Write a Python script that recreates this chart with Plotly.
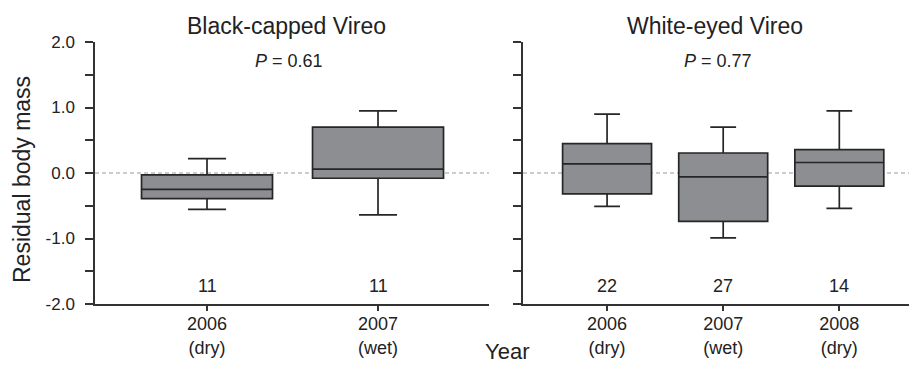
import plotly.graph_objects as go

# ---- data ----
bcv_pos = [0, 1]
bcv_labels = ["2006<br>(dry)", "2007<br>(wet)"]
bcv_q1 = [-0.39, -0.08]
bcv_med = [-0.25, 0.06]
bcv_q3 = [-0.03, 0.70]
bcv_lo = [-0.555, -0.64]
bcv_hi = [0.22, 0.95]
bcv_n = ["11", "11"]

wev_pos = [0, 1, 2]
wev_labels = ["2006<br>(dry)", "2007<br>(wet)", "2008<br>(dry)"]
wev_q1 = [-0.32, -0.74, -0.20]
wev_med = [0.14, -0.06, 0.16]
wev_q3 = [0.45, 0.305, 0.356]
wev_lo = [-0.51, -0.99, -0.54]
wev_hi = [0.90, 0.70, 0.95]
wev_n = ["22", "27", "14"]

y_tickvals = [-2.0, -1.5, -1.0, -0.5, 0.0, 0.5, 1.0, 1.5, 2.0]
y_ticktext = ["-2.0", "", "-1.0", "", "0.0", "", "1.0", "", "2.0"]

titles = ["Black-capped Vireo", "White-eyed Vireo"]
pvals = ["<i>P</i> = 0.61", "<i>P</i> = 0.77"]

# ---- style ----
FONT = "Liberation Sans, Arial, sans-serif"
TXT = "#222222"
FILL = "#8d8e92"
EDGE = "#262626"
W, H = 909, 365

fig = go.Figure()

def add_boxes(pos, q1, med, q3, lo, hi, xa, ya):
    fig.add_trace(go.Box(
        x=pos, q1=q1, median=med, q3=q3, lowerfence=lo, upperfence=hi,
        xaxis=xa, yaxis=ya, width=0.766, whiskerwidth=0.29,
        fillcolor=FILL, line=dict(color=EDGE, width=1.7),
        boxpoints=False, showlegend=False, hoverinfo="skip"))

add_boxes(bcv_pos, bcv_q1, bcv_med, bcv_q3, bcv_lo, bcv_hi, "x", "y")
add_boxes(wev_pos, wev_q1, wev_med, wev_q3, wev_lo, wev_hi, "x2", "y2")

ydom = [1 - 304 / H, 1 - 42 / H]

axis_common = dict(showgrid=False, zeroline=False, showline=True,
                   linecolor="#333333", linewidth=1.5, ticks="outside",
                   tickcolor="#333333", tickwidth=1.5, mirror=False,
                   automargin=False)

fig.update_layout(
    width=W, height=H, margin=dict(l=0, r=0, t=0, b=0, pad=0),
    paper_bgcolor="white", plot_bgcolor="white",
    font=dict(family=FONT, color=TXT),
    xaxis=dict(domain=[95 / W, 489 / W], range=[-0.655, 1.649], anchor="y",
               tickvals=bcv_pos, ticktext=bcv_labels, ticklen=5,
               ticklabelstandoff=-2,
               tickfont=dict(size=18, color=TXT), **axis_common),
    yaxis=dict(domain=ydom, range=[-2, 2], anchor="x",
               tickvals=y_tickvals, ticktext=y_ticktext, ticklen=8,
               ticklabelstandoff=7,
               tickfont=dict(size=17, color=TXT), **axis_common),
    xaxis2=dict(domain=[523 / W, 1.0], range=[-0.724, 2.60], anchor="y2",
                tickvals=wev_pos, ticktext=wev_labels, ticklen=5,
                ticklabelstandoff=-2,
                tickfont=dict(size=18, color=TXT), **axis_common),
    yaxis2=dict(domain=ydom, range=[-2, 2], anchor="x2",
                tickvals=y_tickvals, ticklen=8, showticklabels=False,
                **axis_common),
)

# dashed reference line at zero
for xr, yr in (("x domain", "y"), ("x2 domain", "y2")):
    fig.add_shape(type="line", xref=xr, yref=yr, x0=0, x1=1, y0=0, y1=0,
                  line=dict(color="#9a9a9a", width=1, dash="4px,3px"),
                  layer="below")

# sample sizes
for pos, ns, xr, yr in ((bcv_pos, bcv_n, "x", "y"), (wev_pos, wev_n, "x2", "y2")):
    for p, n in zip(pos, ns):
        fig.add_annotation(x=p, y=-1.725, xref=xr, yref=yr, text=n,
                           xanchor="center", yanchor="middle",
                           showarrow=False, font=dict(size=18, color=TXT))

def note(px, py, text, size, angle=0):
    fig.add_annotation(x=px / W, y=1 - py / H, xref="paper", yref="paper",
                       text=text, textangle=angle, showarrow=False,
                       xanchor="center", yanchor="middle",
                       font=dict(size=size, color=TXT))

# panel titles and P values
for cx, t, pv in ((286, titles[0], pvals[0]), (715, titles[1], pvals[1])):
    note(cx, 26, t, 23)
    note(cx + 3, 61, pv, 18)

# axis titles
note(22, 180, "Residual body mass", 23, angle=-90)
note(507, 351, "Year", 22)

fig.write_html("out.html")
